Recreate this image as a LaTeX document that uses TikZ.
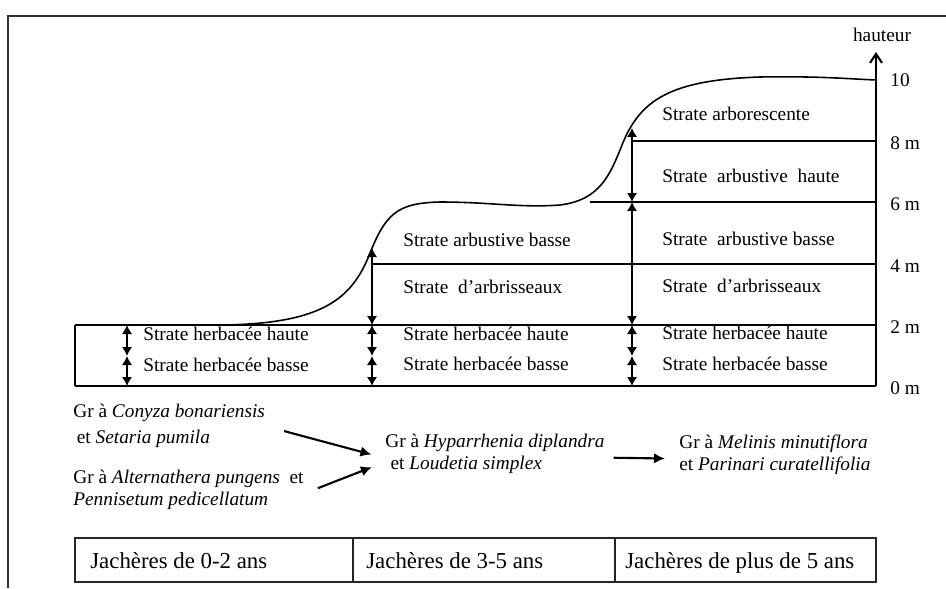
\documentclass[tikz,border=0pt]{standalone}
\usepackage{fontspec}
\setmainfont{Liberation Serif}
\usetikzlibrary{arrows.meta}

\begin{document}
\begin{tikzpicture}[x=0.02cm, y=-0.02cm,
  strate/.style={anchor=base west, inner sep=0pt},
  dim/.style={{Latex[length=1.8mm,width=2.1mm]}-{Latex[length=1.8mm,width=2.1mm]}, line width=1.3pt},
  flow/.style={-{Latex[length=2.2mm,width=2.1mm]}, line width=1.2pt},
  gr/.style={anchor=north west, align=left, inner sep=0pt, font=\fontsize{11}{12.5}\selectfont}]
  \tikzstyle{every node}=[font=\fontsize{11}{13}\selectfont]

  \useasboundingbox (0,0) rectangle (946,588);
  \draw[line width=1.2pt, black!80] (8,588) -- (8,16) -- (946,16);

  \foreach \c/\x in {a/127, b/372, c/632, ax/876}
    \foreach \l/\y in {0/386, 1/356, 2/325, 4/264, 45/248, 6/202, 8/141, 85/128, 10/80}
      \coordinate (\c\l) at (\x,\y);
  \coordinate (l0) at (75,386);
  \coordinate (l2) at (75,325);
  \coordinate (s6) at (590,202);

  \draw[line width=1.4pt] (l2) -- (ax2) (l0) -- (ax0) (l2) -- (l0);
  \draw[line width=1pt] (b4) -- (ax4);
  \draw[line width=0.7pt] (s6) -- (ax6) (c8) -- (ax8);
  \draw[line width=0.9pt] (215,325) .. controls (320,325) and (350,300) .. (368,258)
    .. controls (385,215) and (395,203) .. (440,202)
    .. controls (490,202) and (520,208) .. (560,205)
    .. controls (600,200) and (610,175) .. (622,145)
    .. controls (640,100) and (670,80) .. (760,77)
    .. controls (820,76) and (850,79) .. (ax10);

  \foreach \p/\q in {a2/a1, a1/a0, b45/b2, b2/b1, b1/b0, c85/c6, c6/c2, c2/c1, c1/c0}
    \draw[dim] (\p) -- (\q);

  \draw[line width=1.2pt, -{Straight Barb[length=1.8mm,width=2.4mm]}] (ax0) -- (876,52);
  \node (ht) at (882,35) {hauteur};
  \foreach \t/\y in {10/87, 8 m/149, 6 m/210, 4 m/272, 2 m/333, 0 m/394}
    \node[strate] (m\y) at (890,\y) {\t};

  \node[strate] (h1) at (143,340) {Strate herbacée haute};
  \node[strate] (b1) at (143,371) {Strate herbacée basse};
  \node[strate] (ab2) at (403,246) {Strate arbustive basse};
  \node[strate] (ar2) at (403,293) {Strate\ \ d’arbrisseaux};
  \node[strate] (h2) at (403,340) {Strate herbacée haute};
  \node[strate] (b2) at (403,370) {Strate herbacée basse};
  \node[strate] (ac3) at (662,120) {Strate arborescente};
  \node[strate] (ah3) at (662,182) {Strate\ \ arbustive\ \ haute};
  \node[strate] (ab3) at (662,245) {Strate\ \ arbustive basse};
  \node[strate] (ar3) at (662,292) {Strate\ \ d’arbrisseaux};
  \node[strate] (h3) at (662,339) {Strate herbacée haute};
  \node[strate] (b3) at (662,370) {Strate herbacée basse};

  \node[gr] (g1) at (73,404) {Gr à \textit{Conyza bonariensis}\\[2.2pt]\hspace{2pt}et \textit{Setaria pumila}};
  \node[gr] (g2) at (73,470) {Gr à \textit{Alternathera pungens}\ \ et\\\textit{Pennisetum pedicellatum}};
  \node[gr] (g3) at (385,434) {Gr à \textit{Hyparrhenia diplandra}\\\hspace{3pt}et \textit{Loudetia simplex}};
  \node[gr] (g4) at (679,435) {Gr à \textit{Melinis minutiflora}\\et \textit{Parinari curatellifolia}};

  \draw[flow, shorten <=11pt, shorten >=8pt] (g1.east) -- ([yshift=-2.3pt]g3.west);
  \draw[flow, shorten <=8.5pt, shorten >=8pt] ([yshift=-2pt]g2.east) -- ([yshift=-4.5pt]g3.west);
  \draw[flow, shorten <=5pt, shorten >=8pt] ([yshift=-2pt]g3.east) -- ([yshift=-2pt]g4.west);

  \draw[line width=1.1pt, black!85] (75,538) rectangle (876,582) (353,538) -- (353,582) (615,538) -- (615,582);
  \tikzstyle{every node}=[font=\fontsize{13}{15}\selectfont]
  \node[strate] (j1) at (90,568) {Jachères de 0-2 ans};
  \node[strate] (j2) at (366,568) {Jachères de 3-5 ans};
  \node[strate] (j3) at (625,568) {Jachères de plus de 5 ans};
\end{tikzpicture}
\end{document}
